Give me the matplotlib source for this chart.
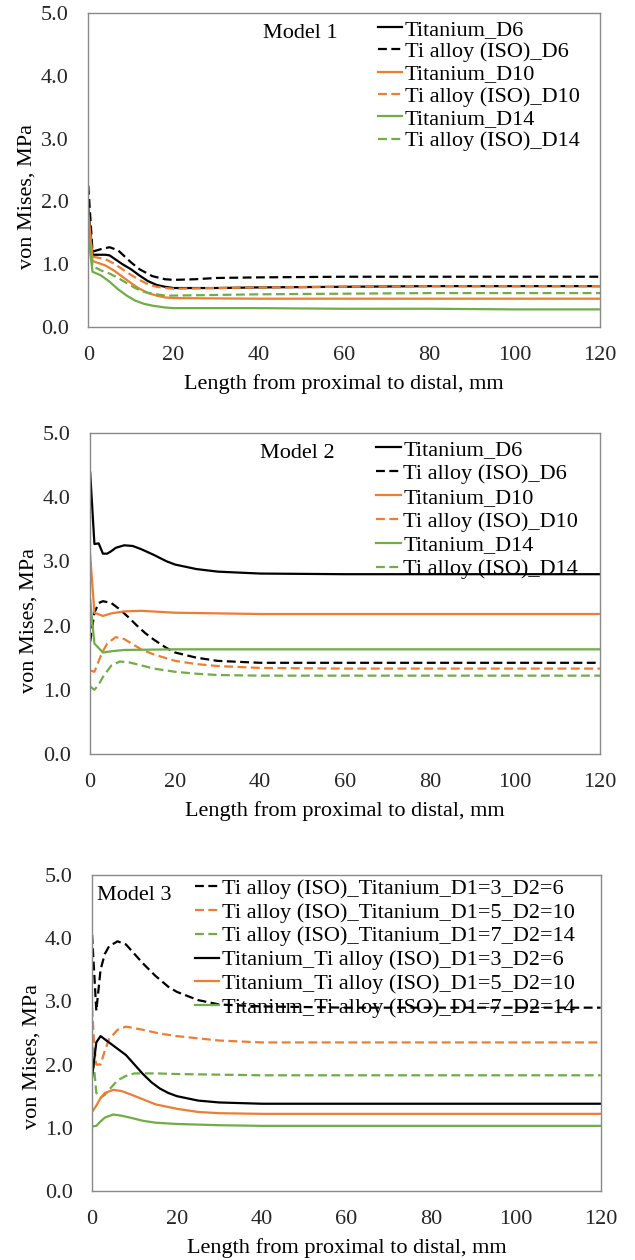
import matplotlib
matplotlib.use('Agg')
import matplotlib.pyplot as plt

plt.rcParams['font.family'] = ['Liberation Serif', 'DejaVu Serif']

BLACK = '#000000'
ORANGE = '#ED7D31'
GREEN = '#70AD47'

# ---- Model 1 ----
m1_ti_d6_x = [0, 1, 2, 4, 5, 8, 10, 12, 14, 16, 18, 20, 30, 40, 60, 80, 100, 120]
m1_ti_d6_y = [1.9, 1.15, 1.15, 1.15, 1.14, 1.0, 0.92, 0.82, 0.73, 0.67, 0.64, 0.62, 0.62, 0.63, 0.64, 0.65, 0.65, 0.65]
m1_iso_d6_x = [0, 1, 3, 5, 7, 10, 12, 15, 18, 20, 25, 30, 40, 60, 80, 100, 120]
m1_iso_d6_y = [2.25, 1.2, 1.24, 1.27, 1.22, 1.03, 0.92, 0.81, 0.76, 0.75, 0.76, 0.78, 0.79, 0.8, 0.8, 0.8, 0.8]
m1_ti_d10_x = [0, 1, 4, 6, 8, 10, 12, 14, 16, 18, 20, 40, 60, 80, 100, 120]
m1_ti_d10_y = [1.85, 1.05, 0.98, 0.9, 0.8, 0.7, 0.61, 0.54, 0.5, 0.47, 0.46, 0.45, 0.45, 0.45, 0.45, 0.45]
m1_iso_d10_x = [0, 1, 4, 6, 8, 10, 12, 14, 16, 18, 20, 40, 60, 80, 100, 120]
m1_iso_d10_y = [1.75, 1.12, 1.08, 1.01, 0.92, 0.83, 0.75, 0.68, 0.64, 0.62, 0.61, 0.63, 0.64, 0.65, 0.65, 0.65]
m1_ti_d14_x = [0, 1, 3, 5, 7, 9, 11, 13, 15, 18, 20, 40, 60, 80, 100, 120]
m1_ti_d14_y = [1.45, 0.88, 0.82, 0.72, 0.6, 0.5, 0.42, 0.37, 0.34, 0.31, 0.3, 0.3, 0.29, 0.29, 0.28, 0.28]
m1_iso_d14_x = [0, 1, 3, 5, 7, 9, 11, 13, 15, 18, 20, 40, 60, 80, 100, 120]
m1_iso_d14_y = [1.55, 0.97, 0.9, 0.85, 0.78, 0.7, 0.62, 0.56, 0.53, 0.5, 0.5, 0.52, 0.53, 0.54, 0.54, 0.54]

# ---- Model 2 ----
m2_ti_d6_x = [0, 1, 2, 3, 4, 5, 6, 8, 10, 12, 15, 18, 20, 25, 30, 40, 60, 80, 100, 120]
m2_ti_d6_y = [4.38, 3.27, 3.28, 3.12, 3.12, 3.16, 3.21, 3.25, 3.24, 3.19, 3.1, 3.0, 2.95, 2.88, 2.84, 2.81, 2.8, 2.8, 2.8, 2.8]
m2_iso_d6_x = [0, 1, 2, 3, 5, 7, 9, 11, 13, 15, 18, 20, 25, 30, 40, 60, 80, 100, 120]
m2_iso_d6_y = [1.75, 2.2, 2.35, 2.38, 2.35, 2.25, 2.13, 2.0, 1.88, 1.78, 1.65, 1.58, 1.5, 1.45, 1.42, 1.42, 1.42, 1.42, 1.42]
m2_ti_d10_x = [0, 1, 3, 5, 8, 12, 20, 40, 60, 80, 100, 120]
m2_ti_d10_y = [3.1, 2.2, 2.15, 2.19, 2.22, 2.23, 2.2, 2.18, 2.18, 2.18, 2.18, 2.18]
m2_iso_d10_x = [0, 1, 2, 3, 4, 6, 8, 10, 12, 15, 20, 25, 30, 40, 60, 80, 100, 120]
m2_iso_d10_y = [1.3, 1.28, 1.45, 1.6, 1.72, 1.82, 1.79, 1.71, 1.63, 1.55, 1.45, 1.4, 1.37, 1.34, 1.33, 1.33, 1.33, 1.33]
m2_ti_d14_x = [0, 1, 3, 5, 8, 20, 40, 60, 80, 100, 120]
m2_ti_d14_y = [2.4, 1.72, 1.58, 1.6, 1.62, 1.63, 1.63, 1.63, 1.63, 1.63, 1.63]
m2_iso_d14_x = [0, 1, 2, 3, 5, 7, 9, 12, 15, 20, 25, 30, 40, 60, 80, 100, 120]
m2_iso_d14_y = [1.05, 1.0, 1.08, 1.2, 1.38, 1.44, 1.43, 1.38, 1.33, 1.28, 1.25, 1.23, 1.22, 1.22, 1.22, 1.22, 1.22]

# ---- Model 3 ----
m3_iso_ti_3_6_x = [0, 1, 2, 3, 4, 6, 8, 10, 12, 15, 18, 20, 25, 30, 40, 60, 80, 100, 120]
m3_iso_ti_3_6_y = [4.05, 2.85, 3.5, 3.75, 3.87, 3.95, 3.9, 3.75, 3.6, 3.4, 3.23, 3.15, 3.02, 2.95, 2.92, 2.9, 2.9, 2.9, 2.9]
m3_iso_ti_5_10_x = [0, 0.5, 1, 2, 3, 4, 6, 8, 12, 16, 20, 30, 40, 60, 80, 100, 120]
m3_iso_ti_5_10_y = [2.9, 2.3, 2.0, 2.0, 2.22, 2.4, 2.55, 2.6, 2.55, 2.49, 2.45, 2.38, 2.35, 2.35, 2.35, 2.35, 2.35]
m3_iso_ti_7_14_x = [0, 1, 2, 3, 4, 6, 8, 10, 15, 20, 40, 60, 80, 100, 120]
m3_iso_ti_7_14_y = [2.3, 1.55, 1.48, 1.52, 1.6, 1.75, 1.82, 1.86, 1.86, 1.85, 1.83, 1.83, 1.83, 1.83, 1.83]
m3_ti_iso_3_6_x = [0, 1, 2, 4, 6, 8, 10, 12, 14, 16, 18, 20, 25, 30, 40, 60, 80, 100, 120]
m3_ti_iso_3_6_y = [1.8, 2.35, 2.45, 2.35, 2.25, 2.15, 2.0, 1.85, 1.72, 1.62, 1.55, 1.5, 1.43, 1.4, 1.38, 1.38, 1.38, 1.38, 1.38]
m3_ti_iso_5_10_x = [0, 1, 2, 3, 5, 7, 9, 12, 15, 20, 25, 30, 40, 60, 80, 100, 120]
m3_ti_iso_5_10_y = [1.25, 1.35, 1.47, 1.55, 1.6, 1.58, 1.53, 1.45, 1.37, 1.3, 1.25, 1.23, 1.22, 1.22, 1.22, 1.22, 1.22]
m3_ti_iso_7_14_x = [0, 1, 2, 3, 5, 7, 9, 12, 15, 20, 30, 40, 60, 80, 100, 120]
m3_ti_iso_7_14_y = [1.02, 1.03, 1.1, 1.16, 1.21, 1.19, 1.16, 1.11, 1.08, 1.06, 1.04, 1.03, 1.03, 1.03, 1.03, 1.03]

solid = '-'
dash = (0, (4, 2))

panels = [
    {
        'title': 'Model 1',
        'series': [
            (m1_ti_d6_x, m1_ti_d6_y, BLACK, solid, 'Titanium_D6'),
            (m1_iso_d6_x, m1_iso_d6_y, BLACK, dash, 'Ti alloy (ISO)_D6'),
            (m1_ti_d10_x, m1_ti_d10_y, ORANGE, solid, 'Titanium_D10'),
            (m1_iso_d10_x, m1_iso_d10_y, ORANGE, dash, 'Ti alloy (ISO)_D10'),
            (m1_ti_d14_x, m1_ti_d14_y, GREEN, solid, 'Titanium_D14'),
            (m1_iso_d14_x, m1_iso_d14_y, GREEN, dash, 'Ti alloy (ISO)_D14'),
        ],
        'rect': [0.139, 0.7405, 0.806, 0.2492],
        'model_xy': (0.342, 0.936),
        'leg_xy': (0.566, 0.98),
        'leg_sp': 0.08,
        'ylab_xy': (-0.119, 0.414),
    },
    {
        'title': 'Model 2',
        'series': [
            (m2_ti_d6_x, m2_ti_d6_y, BLACK, solid, 'Titanium_D6'),
            (m2_iso_d6_x, m2_iso_d6_y, BLACK, dash, 'Ti alloy (ISO)_D6'),
            (m2_ti_d10_x, m2_ti_d10_y, ORANGE, solid, 'Titanium_D10'),
            (m2_iso_d10_x, m2_iso_d10_y, ORANGE, dash, 'Ti alloy (ISO)_D10'),
            (m2_ti_d14_x, m2_ti_d14_y, GREEN, solid, 'Titanium_D14'),
            (m2_iso_d14_x, m2_iso_d14_y, GREEN, dash, 'Ti alloy (ISO)_D14'),
        ],
        'rect': [0.142, 0.4016, 0.803, 0.2548],
        'model_xy': (0.333, 0.935),
        'leg_xy': (0.561, 0.98),
        'leg_sp': 0.15,
        'ylab_xy': (-0.12, 0.417),
    },
    {
        'title': 'Model 3',
        'series': [
            (m3_iso_ti_3_6_x, m3_iso_ti_3_6_y, BLACK, dash, 'Ti alloy (ISO)_Titanium_D1=3_D2=6'),
            (m3_iso_ti_5_10_x, m3_iso_ti_5_10_y, ORANGE, dash, 'Ti alloy (ISO)_Titanium_D1=5_D2=10'),
            (m3_iso_ti_7_14_x, m3_iso_ti_7_14_y, GREEN, dash, 'Ti alloy (ISO)_Titanium_D1=7_D2=14'),
            (m3_ti_iso_3_6_x, m3_ti_iso_3_6_y, BLACK, solid, 'Titanium_Ti alloy (ISO)_D1=3_D2=6'),
            (m3_ti_iso_5_10_x, m3_ti_iso_5_10_y, ORANGE, solid, 'Titanium_Ti alloy (ISO)_D1=5_D2=10'),
            (m3_ti_iso_7_14_x, m3_ti_iso_7_14_y, GREEN, solid, 'Titanium_Ti alloy (ISO)_D1=7_D2=14'),
        ],
        'rect': [0.145, 0.0548, 0.801, 0.2508],
        'model_xy': (0.01, 0.935),
        'leg_xy': (0.202, 0.99),
        'leg_sp': 0.15,
        'ylab_xy': (-0.118, 0.427),
    },
]

fig = plt.figure(figsize=(6.35, 12.6), dpi=100)

for p in panels:
    ax = fig.add_axes(p['rect'])
    for x, y, c, ls, lab in p['series']:
        ax.plot(x, y, color=c, linestyle=ls, linewidth=1.6, label=lab)
    ax.set_xlim(0, 120)
    ax.set_ylim(0, 5)
    ax.set_xticks(range(0, 121, 20))
    ax.set_yticks([0, 1, 2, 3, 4, 5])
    ax.set_yticklabels([f'{v:.1f}' for v in range(6)])
    ax.tick_params(length=0, labelsize=16, pad=14, colors='#262626')
    for s in ax.spines.values():
        s.set_color('#898989')
        s.set_linewidth(1.0)
    ax.set_ylabel('von Mises, MPa', fontsize=16, va='center')
    ax.yaxis.set_label_coords(*p['ylab_xy'])
    ax.set_xlabel('Length from proximal to distal, mm', fontsize=16, labelpad=6)
    ax.text(p['model_xy'][0], p['model_xy'][1], p['title'], transform=ax.transAxes,
            fontsize=16, ha='left', va='center')
    ax.legend(loc='upper left', bbox_to_anchor=p['leg_xy'], frameon=False,
              fontsize=16, handlelength=1.1, handletextpad=0.12,
              labelspacing=p['leg_sp'], borderpad=0, borderaxespad=0)

fig.savefig('out.png', dpi=100)
